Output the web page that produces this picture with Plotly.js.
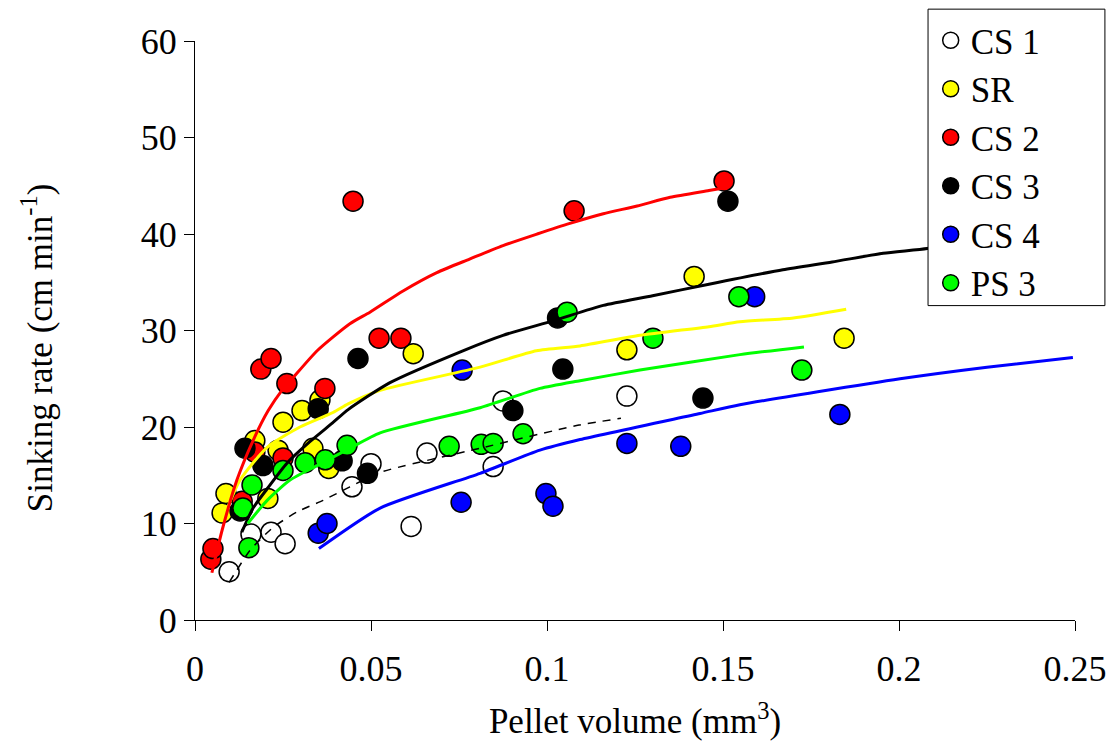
<!DOCTYPE html>
<html>
<head>
<meta charset="utf-8">
<script src="https://cdn.plot.ly/plotly-3.0.1.min.js"></script>
<style>html,body{margin:0;padding:0;background:#fff;}#chart{width:1110px;height:753px;}</style>
</head>
<body>
<div id="chart"></div>
<script>
// ---- Series names and colours ----
const seriesNames = ["CS 1", "SR", "CS 2", "CS 3", "CS 4", "PS 3"];
const seriesColors = ["#FFFFFF", "#FFFF00", "#FF0000", "#000000", "#0000FF", "#00FF00"];

// ---- Observed points (pellet volume mm3, sinking rate cm/min) ----
const cs1X = [0.0097, 0.0159, 0.0216, 0.0256, 0.0446, 0.0500, 0.0614, 0.0659, 0.0847, 0.0875, 0.1227];
const cs1Y = [5.0, 8.9, 9.1, 7.9, 13.8, 16.2, 9.7, 17.3, 15.9, 22.7, 23.2];

const srX = [0.0077, 0.0088, 0.0170, 0.0207, 0.0236, 0.0250, 0.0304, 0.0355, 0.0335, 0.0380, 0.0620, 0.1227, 0.1418, 0.1844];
const srY = [11.1, 13.1, 18.6, 12.6, 17.6, 20.5, 21.7, 22.8, 17.8, 15.7, 27.6, 28.0, 35.6, 29.2];

const cs2X = [0.0045, 0.0051, 0.0134, 0.0170, 0.0187, 0.0216, 0.0250, 0.0261, 0.0369, 0.0449, 0.0523, 0.0585, 0.1077, 0.1503];
const cs2Y = [6.3, 7.4, 12.3, 17.4, 26.0, 27.1, 16.8, 24.5, 24.0, 43.4, 29.2, 29.2, 42.4, 45.5];

const cs3X = [0.0128, 0.0142, 0.0193, 0.0350, 0.0418, 0.0463, 0.0490, 0.0903, 0.1030, 0.1045, 0.1443, 0.1514];
const cs3Y = [11.3, 17.8, 16.0, 21.9, 16.5, 27.1, 15.2, 21.7, 31.3, 26.0, 23.0, 43.4];

const cs4X = [0.0350, 0.0375, 0.0756, 0.0759, 0.0997, 0.1017, 0.1227, 0.1380, 0.1590, 0.1832];
const cs4Y = [9.0, 10.0, 12.2, 25.9, 13.1, 11.8, 18.3, 18.0, 33.5, 21.3];

const ps3X = [0.0136, 0.0153, 0.0162, 0.0250, 0.0313, 0.0370, 0.0432, 0.0722, 0.0813, 0.0847, 0.0932, 0.1057, 0.1301, 0.1545, 0.1724];
const ps3Y = [11.6, 7.5, 14.0, 15.5, 16.3, 16.6, 18.1, 18.0, 18.2, 18.3, 19.3, 31.9, 29.2, 33.5, 25.9];

// ---- Fitted curves ----
const cs1FitX = [0.0097, 0.0156, 0.0222, 0.0290, 0.0364, 0.0440, 0.0526, 0.0810, 0.1091, 0.1210];
const cs1FitY = [3.9, 7.2, 9.6, 11.2, 12.4, 13.8, 15.3, 17.8, 20.2, 20.9];

const srFitX = [0.0080, 0.0128, 0.0205, 0.0298, 0.0392, 0.0435, 0.0526, 0.0810, 0.0970, 0.1094, 0.1264, 0.1460, 0.1548, 0.1700, 0.1850];
const srFitY = [10.5, 14.5, 17.9, 20.0, 21.5, 22.4, 23.8, 26.2, 27.9, 28.4, 29.5, 30.4, 30.9, 31.3, 32.2];

const cs2FitX = [0.0048, 0.0077, 0.0119, 0.0165, 0.0208, 0.0247, 0.0276, 0.0347, 0.0440, 0.0497, 0.0591, 0.0687, 0.0780, 0.0875, 0.0972, 0.1065, 0.1160, 0.1256, 0.1350, 0.1460, 0.1506];
const cs2FitY = [4.9, 9.3, 14.5, 18.6, 21.7, 23.8, 25.0, 27.9, 30.7, 31.9, 34.1, 36.0, 37.4, 38.8, 40.0, 41.1, 42.1, 42.9, 43.8, 44.5, 44.8];

const cs3FitX = [0.0133, 0.0165, 0.0205, 0.0260, 0.0327, 0.0390, 0.0435, 0.0554, 0.0761, 0.0875, 0.1017, 0.1160, 0.1300, 0.1460, 0.1670, 0.1810, 0.1955, 0.2080, 0.2150];
const cs3FitY = [9.1, 11.6, 13.6, 16.2, 18.5, 20.4, 21.8, 24.6, 27.9, 29.5, 31.0, 32.6, 33.6, 34.8, 36.3, 37.1, 38.0, 38.5, 39.0];

const cs4FitX = [0.0352, 0.0526, 0.0810, 0.0980, 0.1094, 0.1435, 0.1548, 0.2003, 0.2250, 0.2494];
const cs4FitY = [7.4, 11.6, 15.2, 17.6, 18.7, 21.4, 22.3, 25.0, 26.2, 27.2];

const ps3FitX = [0.0150, 0.0205, 0.0270, 0.0347, 0.0440, 0.0526, 0.0810, 0.0980, 0.1094, 0.1264, 0.1548, 0.1730];
const ps3FitY = [10.0, 12.4, 14.5, 16.0, 17.8, 19.4, 22.0, 24.0, 24.8, 25.9, 27.5, 28.3];

// ---- Axis ticks and titles ----
const xTickVals = [0, 0.05, 0.1, 0.15, 0.2, 0.25];
const xTickText = ["0", "0.05", "0.1", "0.15", "0.2", "0.25"];
const yTickVals = [0, 10, 20, 30, 40, 50, 60];
const xTitle = 'Pellet volume (mm<sup>3</sup>)';
const yTitle = 'Sinking rate (cm min<sup>-1</sup>)';

const pointsX = [cs1X, srX, cs2X, cs3X, cs4X, ps3X];
const pointsY = [cs1Y, srY, cs2Y, cs3Y, cs4Y, ps3Y];
const fitsX = [cs1FitX, srFitX, cs2FitX, cs3FitX, cs4FitX, ps3FitX];
const fitsY = [cs1FitY, srFitY, cs2FitY, cs3FitY, cs4FitY, ps3FitY];

const FONT = '"Liberation Serif", "Times New Roman", Times, serif';
const traces = [];
for (let i = 0; i < seriesNames.length; i++) {
  traces.push({
    type: 'scatter', mode: 'markers', name: seriesNames[i],
    x: pointsX[i], y: pointsY[i],
    marker: {size: 20, color: seriesColors[i], line: {color: '#000', width: 1.5}},
    cliponaxis: false
  });
}
for (let i = 0; i < seriesNames.length; i++) {
  const isCS1 = i === 0;
  traces.push({
    type: 'scatter', mode: 'lines', showlegend: false, hoverinfo: 'skip',
    x: fitsX[i], y: fitsY[i],
    line: {
      color: isCS1 ? '#000000' : seriesColors[i],
      width: isCS1 ? 1.5 : 3,
      dash: isCS1 ? '8px,7px' : 'solid',
      shape: 'spline', smoothing: 0.6
    }
  });
}

const layout = {
  width: 1110, height: 753,
  paper_bgcolor: '#fff', plot_bgcolor: '#fff',
  margin: {l: 195, r: 35, t: 40, b: 133},
  font: {family: FONT, color: '#000', size: 30},
  showlegend: true,
  legend: {
    x: 0.836, y: 1.05, xanchor: 'left', yanchor: 'top',
    bgcolor: 'rgba(0,0,0,0)', borderwidth: 0,
    font: {family: FONT, size: 35, color: '#000'},
    tracegroupgap: 0
  },
  shapes: [{
    type: 'rect', xref: 'paper', yref: 'paper', layer: 'above',
    x0: 0.833, x1: 1.034, y0: 0.543, y1: 1.055,
    fillcolor: '#fff', line: {color: '#000', width: 1}
  }],
  annotations: [{
    text: yTitle, xref: 'paper', yref: 'paper', x: -0.178, y: 0.47,
    xanchor: 'center', yanchor: 'middle', textangle: -90, showarrow: false,
    font: {family: FONT, size: 35, color: '#000'}
  }],
  xaxis: {
    range: [0, 0.25], tickmode: 'array', tickvals: xTickVals, ticktext: xTickText,
    showgrid: false, zeroline: false, showline: true, linecolor: '#000', linewidth: 1,
    ticks: 'outside', ticklen: 10, tickcolor: '#000', tickwidth: 1,
    ticklabelstandoff: 7,
    tickfont: {family: FONT, size: 36, color: '#000'},
    title: {text: xTitle, font: {family: FONT, size: 35, color: '#000'}, standoff: 20},
    fixedrange: true
  },
  yaxis: {
    range: [0, 60], tickmode: 'array', tickvals: yTickVals,
    showgrid: false, zeroline: false, showline: true, linecolor: '#000', linewidth: 1,
    ticks: 'outside', ticklen: 10, tickcolor: '#000', tickwidth: 1,
    tickfont: {family: FONT, size: 36, color: '#000'},
    fixedrange: true
  }
};

Plotly.newPlot('chart', traces, layout, {displayModeBar: false, staticPlot: true});
</script>
</body>
</html>
